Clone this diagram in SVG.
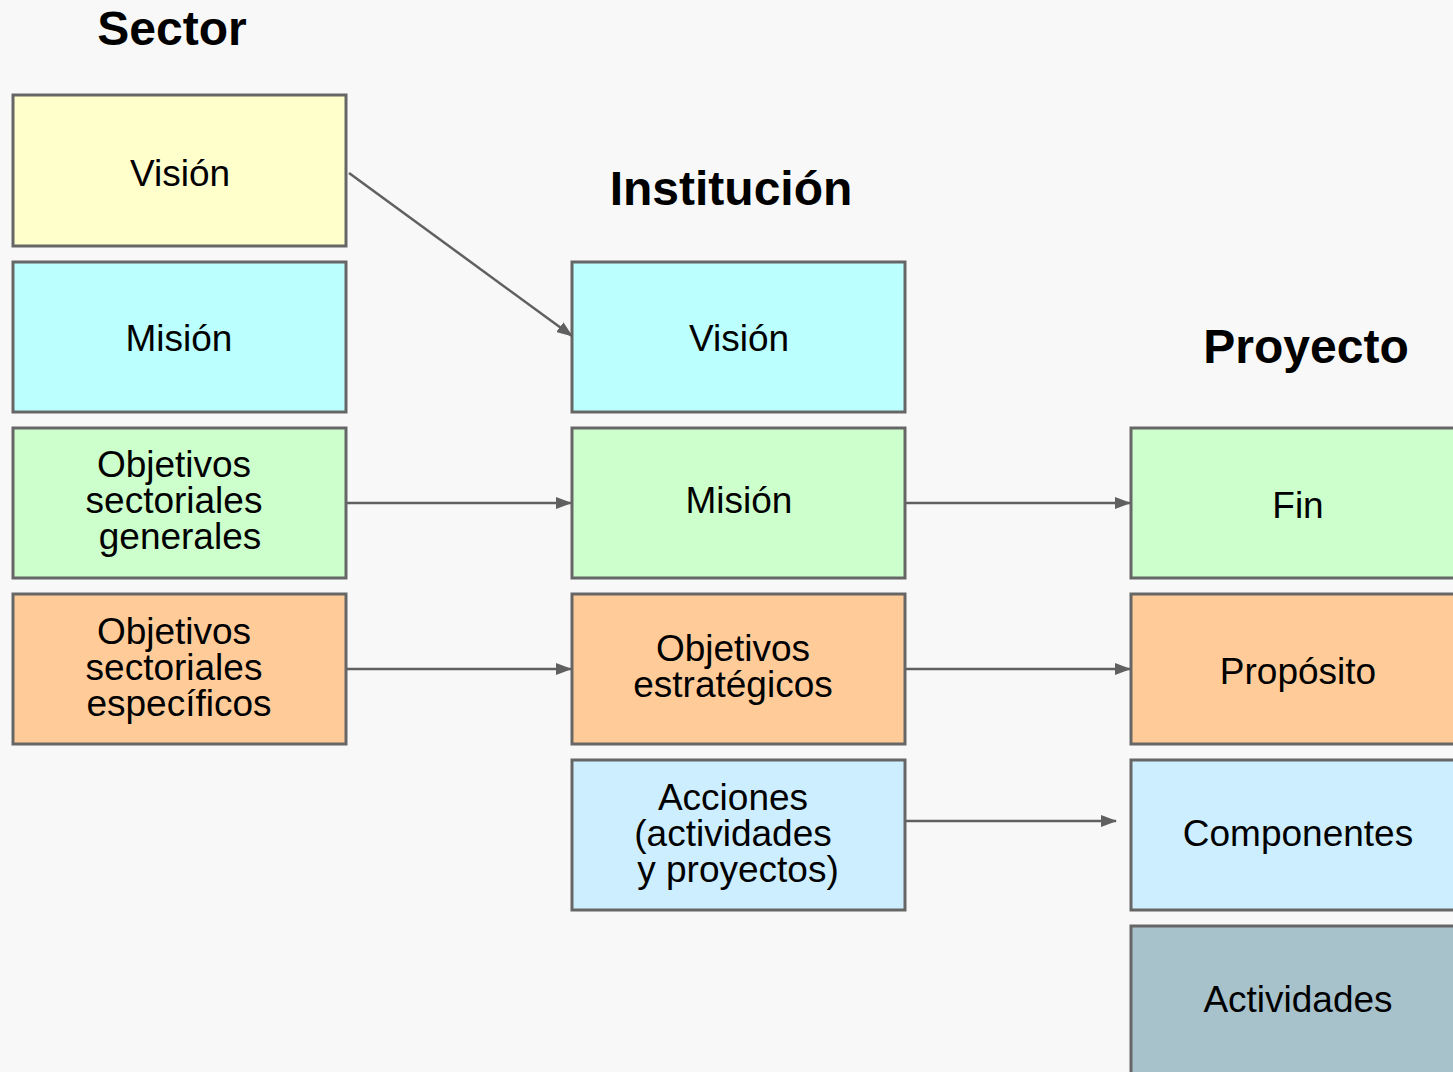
<svg xmlns="http://www.w3.org/2000/svg" width="1453" height="1072" viewBox="0 0 1453 1072">
<defs>
<marker id="ah" markerWidth="16" markerHeight="12" refX="15" refY="6" orient="auto" markerUnits="userSpaceOnUse">
<path d="M0,0 L16,6 L0,12 Z" fill="#606060"/>
</marker>
<style>
.box{stroke:#666;stroke-width:3}
.t{font-family:"Liberation Sans",Arial,sans-serif;font-size:37px;fill:#000;text-anchor:middle}
.h{font-family:"Liberation Sans",Arial,sans-serif;font-size:48px;font-weight:bold;fill:#000;text-anchor:middle}
.c{stroke:#606060;stroke-width:2.5;fill:none;marker-end:url(#ah)}
.y{fill:#FFFFCC}.cy{fill:#BBFFFF}.g{fill:#CCFFCC}.o{fill:#FFCC99}.lb{fill:#CCEEFF}.gb{fill:#A8C2CC}
</style>
</defs>
<rect width="1453" height="1072" fill="#F8F8F8"/>
<text class="h" x="172" y="45">Sector</text>
<text class="h" x="731" y="205">Institución</text>
<text class="h" x="1306" y="363">Proyecto</text>

<g id="s-vision"><rect class="box y" x="13" y="95" width="333" height="151"/><text class="t" x="180" y="186">Visión</text></g>
<g id="s-mision"><rect class="box cy" x="13" y="262" width="333" height="150"/><text class="t" x="179" y="351">Misión</text></g>
<g id="s-objgen"><rect class="box g" x="13" y="428" width="333" height="150"/><text class="t" x="174" y="477">Objetivos</text><text class="t" x="174" y="513">sectoriales</text><text class="t" x="180" y="549">generales</text></g>
<g id="s-objesp"><rect class="box o" x="13" y="594" width="333" height="150"/><text class="t" x="174" y="644">Objetivos</text><text class="t" x="174" y="680">sectoriales</text><text class="t" x="179" y="716">específicos</text></g>

<g id="i-vision"><rect class="box cy" x="572" y="262" width="333" height="150"/><text class="t" x="739" y="351">Visión</text></g>
<g id="i-mision"><rect class="box g" x="572" y="428" width="333" height="150"/><text class="t" x="739" y="513">Misión</text></g>
<g id="i-objest"><rect class="box o" x="572" y="594" width="333" height="150"/><text class="t" x="733" y="661">Objetivos</text><text class="t" x="733" y="697">estratégicos</text></g>
<g id="i-acciones"><rect class="box lb" x="572" y="760" width="333" height="150"/><text class="t" x="733" y="810">Acciones</text><text class="t" x="733" y="846">(actividades</text><text class="t" x="738" y="882">y proyectos)</text></g>

<g id="p-fin"><rect class="box g" x="1131" y="428" width="340" height="150"/><text class="t" x="1298" y="518">Fin</text></g>
<g id="p-proposito"><rect class="box o" x="1131" y="594" width="340" height="150"/><text class="t" x="1298" y="684">Propósito</text></g>
<g id="p-componentes"><rect class="box lb" x="1131" y="760" width="340" height="150"/><text class="t" x="1298" y="846">Componentes</text></g>
<g id="p-actividades"><rect class="box gb" x="1131" y="926" width="340" height="160"/><text class="t" x="1298" y="1012">Actividades</text></g>

<g id="connectors">
<line class="c" x1="349" y1="173" x2="572" y2="336"/>
<line class="c" x1="347" y1="503" x2="571" y2="503"/>
<line class="c" x1="906" y1="503" x2="1130" y2="503"/>
<line class="c" x1="347" y1="669" x2="571" y2="669"/>
<line class="c" x1="906" y1="669" x2="1130" y2="669"/>
<line class="c" x1="906" y1="821" x2="1116" y2="821"/>
</g>
</svg>
